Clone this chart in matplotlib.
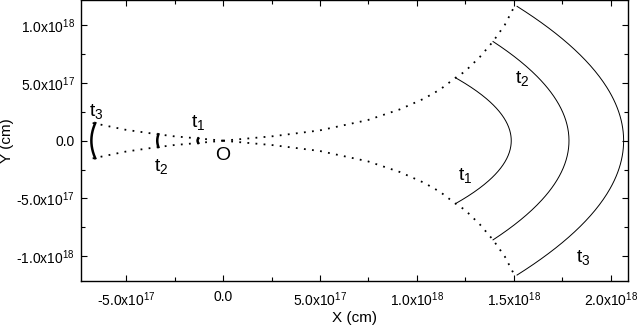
import numpy as np
import matplotlib
matplotlib.use("Agg")
import matplotlib.pyplot as plt
from matplotlib.ticker import FixedLocator, MultipleLocator

plt.rcParams['font.family'] = ['Liberation Sans', 'DejaVu Sans']
plt.rcParams['mathtext.fontset'] = 'custom'
plt.rcParams['mathtext.rm'] = 'Liberation Sans'
plt.rcParams['axes.unicode_minus'] = False

# dotted jet boundary (upper half, mirrored for lower half), units of cm
jet_x = [0.0, 2.59e17, 4.98e17, 7.47e17, 9.11e17, 1.036e18, 1.12e18, 1.197e18,
         1.248e18, 1.325e18, 1.393e18, 1.454e18, 1.50e18, 1.517e18]
jet_y = [0.0, 3.9e16, 8.9e16, 1.79e17, 2.71e17, 3.64e17, 4.44e17, 5.43e17,
         6.0e17, 7.26e17, 8.6e17, 1.005e18, 1.154e18, 1.165e18]
cjet_x = [0.0, -1.31e17, -2.59e17, -3.66e17, -5.04e17, -7.0e17]
cjet_y = [0.0, 2.0e16, 3.9e16, 6.2e16, 9.5e16, 1.63e17]

# shells at t1, t2, t3: edge point on the boundary and apex on the axis
shell_edge_x = [1.20e18, 1.393e18, 1.517e18]
shell_edge_y = [5.45e17, 8.6e17, 1.165e18]
shell_apex_x = [1.487e18, 1.785e18, 2.067e18]
cshell_edge_x = [-1.28e17, -3.34e17, -6.60e17]
cshell_edge_y = [2.0e16, 5.5e16, 1.52e17]
cshell_apex_x = [-1.32e17, -3.40e17, -6.80e17]

labels = ['$\\mathregular{t_1}$', '$\\mathregular{t_2}$', '$\\mathregular{t_3}$']
label_xy = [(1.252e18, -2.99e17), (1.545e18, 5.39e17), (1.859e18, -1.009e18)]
clabel_xy = [(-1.26e17, 1.56e17), (-3.19e17, -2.27e17), (-6.56e17, 2.55e17)]

x_ticks = [-5e17, 0.0, 5e17, 1e18, 1.5e18, 2e18]
y_ticks = [-1e18, -5e17, 0.0, 5e17, 1e18]


def sci_label(v):
    if v == 0:
        return '0.0'
    e = int(np.floor(np.log10(abs(v))))
    m = abs(v) / 10**e
    sign = '-' if v < 0 else ''
    return sign + '$\\mathregular{%.1fx10^{%d}}$' % (m, e)


fig = plt.figure(figsize=(6.37, 3.27), dpi=100)
ax = fig.add_axes([0.1267, 0.1416, 0.8593, 0.857])

dots = dict(color='black', lw=1.3, linestyle=(0, (1, 3.5)), dash_capstyle='butt')
jx, jy = np.array(jet_x), np.array(jet_y)
cx, cy = np.array(cjet_x), np.array(cjet_y)
ax.plot(jx, jy, **dots)
ax.plot(jx, -jy, **dots)
ax.plot(cx, cy, **dots)
ax.plot(cx, -cy, **dots)

# shells drawn as parabolic caps through edge and apex
s = np.linspace(-1, 1, 200)
for xe, ye, xa in zip(shell_edge_x, shell_edge_y, shell_apex_x):
    ax.plot(xa - (xa - xe) * s**2, ye * s, color='black', lw=0.7)
for xe, ye, xa in zip(cshell_edge_x, cshell_edge_y, cshell_apex_x):
    ax.plot(xa - (xa - xe) * s**2, ye * s, color='black', lw=1.8)

for lab, (x, y) in zip(labels, label_xy):
    ax.text(x, y, lab, fontsize=14, ha='center', va='center')
for lab, (x, y) in zip(labels, clabel_xy):
    ax.text(x, y, lab, fontsize=14, ha='center', va='center')
ax.text(0.0, -1.26e17, 'O', fontsize=14, ha='center', va='center')

ax.set_xlim(-7.35e17, 2.09e18)
ax.set_ylim(-1.214e18, 1.216e18)
ax.xaxis.set_major_locator(FixedLocator(x_ticks))
ax.yaxis.set_major_locator(FixedLocator(y_ticks))
ax.set_xticklabels([sci_label(v) for v in x_ticks])
ax.set_yticklabels([sci_label(v) for v in y_ticks])
ax.xaxis.set_minor_locator(MultipleLocator(2.5e17))
ax.yaxis.set_minor_locator(MultipleLocator(2.5e17))
ax.tick_params(which='both', direction='in', top=True, right=True, width=0.8,
               labelsize=10)
ax.tick_params(axis='x', which='both', pad=7)
ax.tick_params(axis='y', which='both', pad=4)
ax.tick_params(which='major', length=4)
ax.tick_params(which='minor', length=3)
for sp in ax.spines.values():
    sp.set_linewidth(1.0)

ax.set_xlabel('X (cm)', fontsize=11)
ax.set_ylabel('Y (cm)', fontsize=11)
ax.xaxis.set_label_coords(0.5, -0.108)
ax.yaxis.set_label_coords(-0.121, 0.5)

fig.savefig('out.png', dpi=100)
